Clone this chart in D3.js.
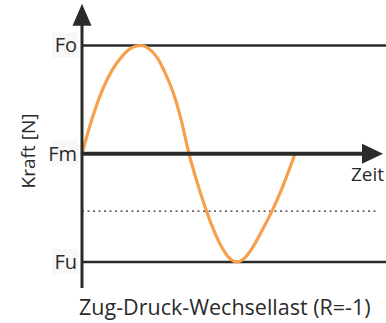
<!DOCTYPE html>
<html>
<head>
<meta charset="utf-8">
<script src="https://cdn.jsdelivr.net/npm/d3@7"></script>
<style>
  html, body { margin: 0; padding: 0; background: #ffffff; }
  svg { display: block; }
  text { font-family: "Open Sans", "Noto Sans", sans-serif; fill: #2b2b2b; }
</style>
</head>
<body>
<svg id="chart" width="386" height="323"></svg>
<script>
// ---- data (time units, force units: Fm = 0, Fo = +1, Fu = -1) ----
const curveTime  = [0, 10, 20, 30, 40, 50, 59, 67, 75, 83, 91, 99, 107, 115, 123, 131, 139, 147, 155, 163, 171, 180, 190, 200, 213];
const curveForce = [0, 0.32, 0.58, 0.77, 0.90, 0.98, 1.0, 0.97, 0.89, 0.75, 0.57, 0.32, 0, -0.26, -0.49, -0.69, -0.85, -0.96, -1.0, -0.96, -0.86, -0.71, -0.53, -0.32, 0];
const levelLabels = ["Fo", "Fm", "Fu"];
const levelValues = [1, 0, -1];
const dottedLevel = -0.53;
const axisTitleY = "Kraft [N]";
const axisTitleX = "Zeit";
const chartTitle = "Zug-Druck-Wechsellast (R=-1)";

// ---- scales ----
const x = d3.scaleLinear().domain([0, 300]).range([82, 382]);
const y = d3.scaleLinear().domain([-1, 1]).range([262, 45.5]);

const svg = d3.select("#chart");
const ink = "#2b2b2b";
const orange = "#f7a04b";

// level lines Fo / Fu (thin)
[levelValues[0], levelValues[2]].forEach(v => {
  svg.append("line").attr("x1", x(0)).attr("x2", 386)
    .attr("y1", y(v)).attr("y2", y(v))
    .attr("stroke", ink).attr("stroke-width", 2.3);
});

// dotted line
svg.append("line").attr("x1", x(0)).attr("x2", x(295))
  .attr("y1", y(dottedLevel)).attr("y2", y(dottedLevel))
  .attr("stroke", ink).attr("stroke-width", 1.1)
  .attr("stroke-dasharray", "2,3.5");

// curve
const pts = curveTime.map((t, i) => [t, curveForce[i]]);
const line = d3.line().x(d => x(d[0])).y(d => y(d[1])).curve(d3.curveMonotoneX);
svg.append("path").attr("d", line(pts))
  .attr("fill", "none").attr("stroke", orange).attr("stroke-width", 3.2)
  .attr("stroke-linecap", "round").attr("stroke-linejoin", "round");

// time axis (Fm) with arrow
const ym = y(levelValues[1]);
svg.append("line").attr("x1", x(0)).attr("x2", x(281))
  .attr("y1", ym).attr("y2", ym)
  .attr("stroke", ink).attr("stroke-width", 4);
svg.append("path")
  .attr("d", `M${x(280)},${ym - 10}L${x(301)},${ym}L${x(280)},${ym + 10}Z`)
  .attr("fill", ink);

// force axis with arrow
svg.append("line").attr("x1", x(0)).attr("x2", x(0))
  .attr("y1", y(-1.24)).attr("y2", y(1.2))
  .attr("stroke", ink).attr("stroke-width", 3);
svg.append("path")
  .attr("d", `M${x(0) - 9.5},${y(1.182)}L${x(0)},${y(1.385)}L${x(0) + 9.5},${y(1.182)}Z`)
  .attr("fill", ink);

// level labels
levelLabels.forEach((lab, i) => {
  const yy = y(levelValues[i]);
  svg.append("rect").attr("x", 52).attr("y", yy - 13).attr("width", 26).attr("height", 25)
    .attr("fill", "#f7f7f7");
  svg.append("text").attr("x", 77).attr("y", yy + 6.8)
    .attr("text-anchor", "end").attr("font-size", 20).text(lab);
});

// axis titles
svg.append("text").attr("transform", "translate(35,151) rotate(-90)")
  .attr("text-anchor", "middle").attr("font-size", 19).text(axisTitleY);
svg.append("text").attr("x", 351).attr("y", 181)
  .attr("font-size", 19).text(axisTitleX);

// chart title
svg.append("text").attr("x", 79).attr("y", 315)
  .attr("font-size", 21.5).text(chartTitle);
</script>
</body>
</html>
